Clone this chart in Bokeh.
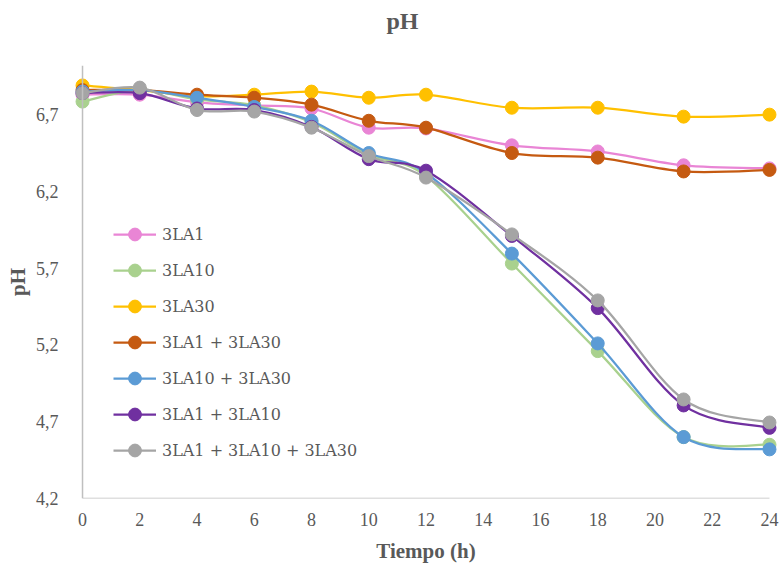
import numpy as np
from bokeh.plotting import figure
from bokeh.models import (Range1d, FixedTicker, CustomJSTickFormatter, Legend, LegendItem,
                          Span, ColumnDataSource, Title)
from bokeh.embed import file_html
from bokeh.resources import INLINE

hours = [0, 2, 4, 6, 8, 10, 12, 15, 18, 21, 24]
series_names = ["3LA1", "3LA10", "3LA30", "3LA1 + 3LA30", "3LA10 + 3LA30",
                "3LA1 + 3LA10", "3LA1 + 3LA10 + 3LA30"]
ph_3la1 = [6.83, 6.83, 6.78, 6.76, 6.74, 6.615, 6.61, 6.50, 6.46, 6.37, 6.35]
ph_3la10 = [6.785, 6.86, 6.80, 6.76, 6.65, 6.44, 6.30, 5.73, 5.16, 4.60, 4.55]
ph_3la30 = [6.89, 6.86, 6.82, 6.83, 6.85, 6.81, 6.83, 6.745, 6.745, 6.687, 6.70]
ph_1_30 = [6.86, 6.86, 6.83, 6.81, 6.765, 6.66, 6.615, 6.45, 6.42, 6.33, 6.34]
ph_10_30 = [6.85, 6.86, 6.81, 6.75, 6.66, 6.45, 6.32, 5.795, 5.21, 4.60, 4.52]
ph_1_10 = [6.84, 6.84, 6.74, 6.73, 6.62, 6.41, 6.335, 5.91, 5.44, 4.806, 4.66]
ph_all = [6.84, 6.876, 6.73, 6.72, 6.615, 6.43, 6.29, 5.92, 5.49, 4.845, 4.695]
series_values = [ph_3la1, ph_3la10, ph_3la30, ph_1_30, ph_10_30, ph_1_10, ph_all]
colors = ["#E985D5", "#A9D18E", "#FFC000", "#C55A11", "#5B9BD5", "#7030A0", "#A5A5A5"]
y_ticks = [4.2, 4.7, 5.2, 5.7, 6.2, 6.7]
x_ticks = list(range(0, 25, 2))
chart_title = "pH"

TXT = "#595959"

p = figure(width=784, height=567, output_backend="svg", toolbar_location=None,
           x_range=Range1d(-0.35, 24.35), y_range=Range1d(4.2, 7.02),
           min_border_left=72, min_border_right=5, min_border_top=65, min_border_bottom=69)
p.outline_line_color = None
p.grid.visible = False
p.background_fill_color = "white"

# spacer between frame and title
p.add_layout(Title(text=" ", text_font_size="1px", standoff=24), "above")
p.add_layout(Title(text=chart_title, align="left", text_font="Liberation Serif",
                   text_font_size="24px", text_font_style="bold", text_color=TXT,
                   offset=314, standoff=10), "above")

for ax in (p.xaxis[0], p.yaxis[0]):
    ax.axis_line_color = None
    ax.major_tick_line_color = None
    ax.minor_tick_line_color = None
    ax.major_label_text_font = "Liberation Serif"
    ax.major_label_text_font_size = "18px"
    ax.major_label_text_color = TXT
    ax.axis_label_text_font = "Liberation Serif"
    ax.axis_label_text_font_size = "21px"
    ax.axis_label_text_font_style = "bold"
    ax.axis_label_text_color = TXT

p.xaxis.ticker = FixedTicker(ticks=x_ticks)
p.yaxis.ticker = FixedTicker(ticks=y_ticks)
p.yaxis.formatter = CustomJSTickFormatter(code="return tick.toFixed(1).replace('.', ',');")
p.xaxis.major_label_standoff = 8
p.yaxis.major_label_standoff = 8
p.xaxis.axis_label = "Tiempo (h)"
p.yaxis.axis_label = "pH"
p.xaxis.axis_label_standoff = 10
p.yaxis.axis_label_standoff = 3

# axis lines
p.add_layout(Span(location=0, dimension="height", line_color="#BFBFBF", line_width=1.5))
p.segment(x0=[hours[0]], y0=[y_ticks[0]], x1=[hours[-1]], y1=[y_ticks[0]],
          line_color="#BFBFBF", line_width=1.5)

items = []
x = np.array(hours, dtype=float)
for name, vals, col in zip(series_names, series_values, colors):
    y = np.array(vals, dtype=float)
    n = len(x)
    xp = np.concatenate([[x[0]], x, [x[-1]]])
    yp = np.concatenate([[y[0]], y, [y[-1]]])
    x0, y0, x1, y1 = x[:-1], y[:-1], x[1:], y[1:]
    cx0 = x0 + (xp[2:n + 1] - xp[0:n - 1]) / 6.0
    cy0 = y0 + (yp[2:n + 1] - yp[0:n - 1]) / 6.0
    cx1 = x1 - (xp[3:n + 2] - xp[1:n]) / 6.0
    cy1 = y1 - (yp[3:n + 2] - yp[1:n]) / 6.0
    src = ColumnDataSource(dict(x0=x0, y0=y0, x1=x1, y1=y1, cx0=cx0, cy0=cy0, cx1=cx1, cy1=cy1))
    p.bezier(x0="x0", y0="y0", x1="x1", y1="y1", cx0="cx0", cy0="cy0", cx1="cx1", cy1="cy1",
             source=src, line_color=col, line_width=2.25)
    leg_line = p.line(x=[np.nan, np.nan], y=[np.nan, np.nan], line_color=col, line_width=2.25)
    sc = p.scatter(x=hours, y=vals, size=13, fill_color=col, line_color=col, line_width=1)
    items.append(LegendItem(label=name, renderers=[leg_line, sc]))

legend = Legend(items=items, location=(41, 32), orientation="vertical",
                label_text_font="DejaVu Serif", label_text_font_size="16px",
                label_text_color=TXT, glyph_width=43, glyph_height=32, label_height=20,
                spacing=4, padding=4, label_standoff=6,
                border_line_color=None, background_fill_alpha=0)
p.add_layout(legend, "center")

open("out.html", "w").write(file_html(p, INLINE))
